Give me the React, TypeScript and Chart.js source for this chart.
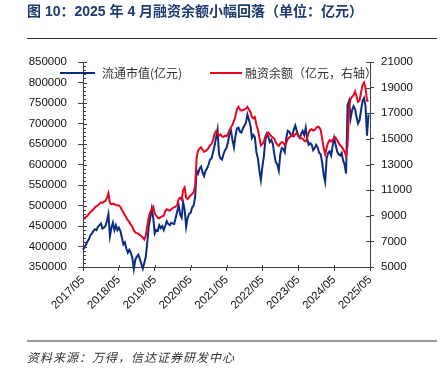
import React, { useEffect, useRef } from 'react';
import { Chart, registerables } from 'chart.js';

Chart.register(...registerables);

// ---- data (two readings per month, 2017/05 → 2025/04) ----
const xLabels = ['2017/05', '2018/05', '2019/05', '2020/05', '2021/05', '2022/05', '2023/05', '2024/05', '2025/05'];
const periodsPerLabel = 24;

const marketCap = [
  // 2017/05-12
  392000, 398000, 405000, 412000, 418000, 428000, 432000, 438000, 442000, 440000, 448000, 452000, 456000, 444000, 446000, 450000,
  // 2018
  462000, 479000, 425000, 445000, 458000, 440000, 452000, 440000, 446000, 438000, 422000, 405000, 410000, 395000, 385000, 392000, 385000, 372000, 345000, 368000, 375000, 380000, 370000, 358000,
  // 2019
  346000, 360000, 375000, 410000, 450000, 470000, 492000, 470000, 432000, 440000, 438000, 452000, 445000, 450000, 440000, 450000, 462000, 455000, 452000, 458000, 456000, 455000, 470000, 485000,
  // 2020
  500000, 478000, 470000, 508000, 490000, 448000, 470000, 480000, 482000, 495000, 500000, 520000, 585000, 578000, 590000, 595000, 580000, 572000, 585000, 590000, 600000, 612000, 615000, 630000,
  // 2021
  645000, 665000, 685000, 625000, 615000, 612000, 625000, 635000, 640000, 655000, 675000, 682000, 660000, 642000, 670000, 688000, 690000, 680000, 678000, 688000, 695000, 702000, 722000, 710000,
  // 2022
  695000, 665000, 672000, 666000, 630000, 615000, 585000, 562000, 595000, 620000, 660000, 675000, 668000, 655000, 660000, 650000, 625000, 605000, 600000, 585000, 625000, 640000, 638000, 630000,
  // 2023
  665000, 682000, 680000, 672000, 670000, 685000, 695000, 682000, 670000, 665000, 675000, 682000, 672000, 690000, 662000, 648000, 652000, 648000, 635000, 640000, 648000, 642000, 628000, 625000,
  // 2024
  605000, 575000, 558000, 615000, 628000, 632000, 622000, 645000, 665000, 648000, 632000, 625000, 622000, 628000, 610000, 600000, 578000, 745000, 755000, 712000, 732000, 742000, 735000, 715000,
  // 2025/01-04
  700000, 708000, 732000, 755000, 762000, 742000, 670000, 722000,
];

const marginBalance = [
  // 2017/05-12
  8750, 8800, 8900, 9000, 9150, 9300, 9400, 9500, 9650, 9750, 9800, 9950, 10050, 10000, 10100, 10150,
  // 2018
  10400, 10750, 10000, 9900, 9950, 9900, 9850, 9800, 9800, 9700, 9450, 9250, 9050, 8850, 8650, 8500, 8300, 8150, 7850, 7700, 7650, 7600, 7500, 7400,
  // 2019
  7300, 7150, 7450, 8200, 8900, 9300, 9500, 9700, 9200, 9000, 8850, 8800, 8900, 8950, 9000, 9350, 9500, 9450, 9400, 9500, 9600, 9650, 9700, 9850,
  // 2020
  10300, 10400, 10250, 11000, 11200, 10400, 10300, 10450, 10600, 10700, 10850, 11300, 13500, 14100, 14250, 14350, 14150, 14000, 14050, 14150, 14300, 14500, 14600, 14900,
  // 2021
  15400, 15600, 15400, 15250, 15350, 15200, 15150, 15250, 15200, 15400, 15650, 15900, 16100, 16400, 16800, 17300, 17500, 17300, 17200, 17250, 17300, 17350, 17500, 17300,
  // 2022
  17100, 16700, 16600, 16700, 16100, 15700, 15100, 14500, 14600, 14800, 15200, 15400, 15500, 15350, 15200, 15100, 15000, 14700, 14550, 14450, 14650, 14750, 14700, 14500,
  // 2023
  14700, 15000, 15100, 15200, 15350, 15200, 15350, 15450, 15250, 15150, 15050, 15000, 14850, 14800, 15100, 15500, 15700, 15750, 15650, 15700, 15850, 15950, 15900, 15700,
  // 2024
  15000, 14300, 13800, 14300, 14700, 14900, 14800, 14950, 15000, 15100, 14900, 14700, 14500, 14400, 14200, 14000, 13700, 14500, 17500, 18100, 18300, 18400, 18700, 18300,
  // 2025/01-04
  17900, 18000, 18600, 19200, 19400, 19000, 18000, 17950,
];

const leftMin = 350000;
const leftMax = 850000;
const leftStep = 50000;
const leftMinorStep = 10000;
const rightMin = 5000;
const rightMax = 21000;
const rightStep = 2000;

const BLUE = '#0B2B84';
const RED = '#E8061E';
const AXIS = '#404040';
const TICK_FONT = { family: "'Liberation Sans', Arial, sans-serif", size: 11.5 };

const innerTicks = {
  id: 'innerTicks',
  afterDatasetsDraw(chart: any) {
    const { ctx, chartArea, scales } = chart;
    const { left, right, bottom } = chartArea;
    ctx.save();
    ctx.strokeStyle = AXIS;
    ctx.lineWidth = 1;
    ctx.beginPath();
    for (let v = leftMin; v <= leftMax; v += leftMinorStep) {
      const p = Math.round(scales.y.getPixelForValue(v)) + 0.5;
      const len = v % leftStep === 0 ? 4 : 3;
      ctx.moveTo(left, p);
      ctx.lineTo(left + len, p);
    }
    for (let v = rightMin; v <= rightMax; v += rightStep) {
      const p = Math.round(scales.y1.getPixelForValue(v)) + 0.5;
      ctx.moveTo(right, p);
      ctx.lineTo(right - 4, p);
    }
    for (let i = 0; i < xLabels.length; i++) {
      const p = Math.round(scales.x.getPixelForValue(i * periodsPerLabel)) + 0.5;
      ctx.moveTo(p, bottom);
      ctx.lineTo(p, bottom - 2);
    }
    ctx.stroke();
    ctx.restore();
  },
};

export default function App() {
  const ref = useRef<HTMLCanvasElement | null>(null);

  useEffect(() => {
    document.body.style.margin = '0';
    const canvas = ref.current;
    if (!canvas) return;
    const chart = new Chart(canvas, {
      type: 'line',
      data: {
        datasets: [
          {
            label: '流通市值(亿元)',
            data: marketCap.map((v, i) => ({ x: i, y: v })),
            borderColor: BLUE,
            borderWidth: 2,
            pointRadius: 0,
            yAxisID: 'y',
            clip: false as any,
            order: 1,
          },
          {
            label: '融资余额（亿元，右轴）',
            data: marginBalance.map((v, i) => ({ x: i, y: v })),
            borderColor: RED,
            borderWidth: 2,
            pointRadius: 0,
            yAxisID: 'y1',
            order: 0,
          },
        ],
      },
      options: {
        animation: false,
        responsive: false,
        layout: { padding: { top: 62, left: 0, right: 0, bottom: 0 } },
        plugins: { legend: { display: false }, tooltip: { enabled: false } },
        scales: {
          x: {
            type: 'linear',
            min: 0,
            max: (xLabels.length - 1) * periodsPerLabel,
            ticks: {
              stepSize: periodsPerLabel,
              autoSkip: false,
              minRotation: 45,
              maxRotation: 45,
              padding: 2,
              color: '#111',
              font: TICK_FONT,
              callback: (v: any) => xLabels[Math.round(Number(v) / periodsPerLabel)] ?? '',
            },
            grid: { drawOnChartArea: false, tickLength: 4, color: AXIS },
            border: { color: AXIS, width: 1 },
            afterFit: (s: any) => { s.height = 102; },
          },
          y: {
            position: 'left',
            min: leftMin,
            max: leftMax,
            ticks: {
              stepSize: leftStep,
              padding: 11,
              color: '#111',
              font: TICK_FONT,
              callback: (v: any) => String(v),
            },
            grid: { drawOnChartArea: false, tickLength: 5, color: AXIS },
            border: { color: AXIS, width: 1 },
            afterFit: (s: any) => { s.width = 83; },
          },
          y1: {
            position: 'right',
            min: rightMin,
            max: rightMax,
            ticks: {
              stepSize: rightStep,
              padding: 7,
              color: '#111',
              font: TICK_FONT,
              callback: (v: any) => String(v),
            },
            grid: { drawOnChartArea: false, tickLength: 4, color: AXIS },
            border: { color: AXIS, width: 1 },
            afterFit: (s: any) => { s.width = 76; },
          },
        },
      },
      plugins: [innerTicks],
    });
    return () => chart.destroy();
  }, []);

  const cjk = "'Liberation Sans', 'Noto Sans CJK SC', sans-serif";
  return (
    <div style={{ position: 'fixed', left: 0, top: 0, width: 446, height: 369, background: '#fff', overflow: 'hidden' }}>
      <canvas ref={ref} width={446} height={369} style={{ position: 'absolute', left: 0, top: 0, width: 446, height: 369 }} />
      <div style={{ position: 'absolute', left: 27, top: 1, fontFamily: cjk, fontWeight: 700, fontSize: 14, color: '#1F3A70', whiteSpace: 'nowrap', lineHeight: '20px' }}>
        图 10：2025 年 4 月融资余额小幅回落（单位：亿元）
      </div>
      <div style={{ position: 'absolute', left: 27, top: 38, width: 410, height: 1, background: '#333' }} />
      {/* legend */}
      <div style={{ position: 'absolute', left: 60, top: 72, width: 35, height: 2, background: BLUE }} />
      <div style={{ position: 'absolute', left: 102, top: 65, fontFamily: "'Noto Sans CJK SC', sans-serif", fontSize: 12, color: '#333', lineHeight: '16px', whiteSpace: 'nowrap' }}>
        流通市值(亿元)
      </div>
      <div style={{ position: 'absolute', left: 210, top: 72, width: 32, height: 2, background: RED }} />
      <div style={{ position: 'absolute', left: 245, top: 65, fontFamily: "'Noto Sans CJK SC', sans-serif", fontSize: 12, color: '#333', lineHeight: '16px', whiteSpace: 'nowrap' }}>
        融资余额（亿元，右轴）
      </div>
      <div style={{ position: 'absolute', left: 27, top: 340, width: 410, height: 2, background: '#9a9a9a' }} />
      <div style={{ position: 'absolute', left: 27, top: 349, fontFamily: "'Noto Sans CJK SC', sans-serif", fontStyle: 'italic', fontSize: 12, letterSpacing: 1, color: '#333', lineHeight: '16px', whiteSpace: 'nowrap' }}>
        资料来源：万得，信达证券研发中心
      </div>
    </div>
  );
}
